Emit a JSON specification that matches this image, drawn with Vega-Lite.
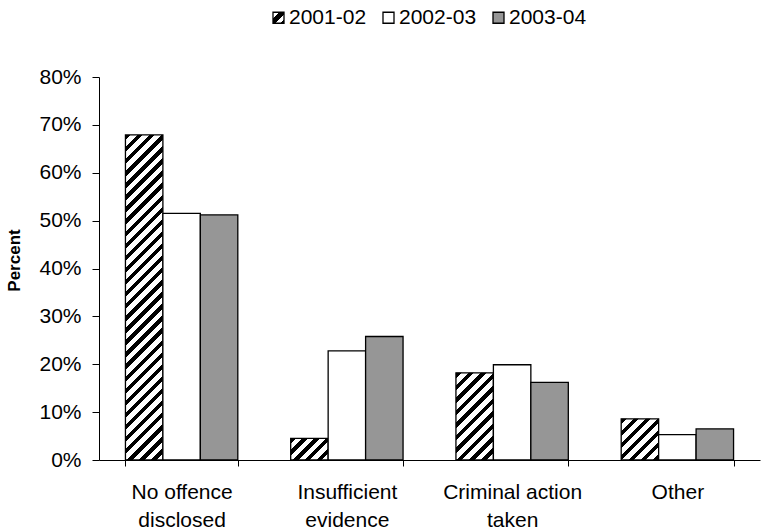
{
  "$schema": "https://vega.github.io/schema/vega-lite/v6.json",
  "autosize": {"type": "none"},
  "padding": {"left": 99, "top": 77, "right": 3, "bottom": 72},
  "width": 661,
  "height": 383,
  "background": "#ffffff",
  "data": {
    "values": [
      {"cat": "No offence disclosed", "series": "2001-02", "value": 67.9},
      {"cat": "No offence disclosed", "series": "2002-03", "value": 51.5},
      {"cat": "No offence disclosed", "series": "2003-04", "value": 51.2},
      {"cat": "Insufficient evidence", "series": "2001-02", "value": 4.5},
      {"cat": "Insufficient evidence", "series": "2002-03", "value": 22.8},
      {"cat": "Insufficient evidence", "series": "2003-04", "value": 25.8},
      {"cat": "Criminal action taken", "series": "2001-02", "value": 18.2},
      {"cat": "Criminal action taken", "series": "2002-03", "value": 19.9},
      {"cat": "Criminal action taken", "series": "2003-04", "value": 16.2},
      {"cat": "Other", "series": "2001-02", "value": 8.6},
      {"cat": "Other", "series": "2002-03", "value": 5.3},
      {"cat": "Other", "series": "2003-04", "value": 6.5}
    ]
  },
  "mark": {"type": "bar", "stroke": "#000000", "strokeWidth": 1.3},
  "encoding": {
    "x": {
      "field": "cat", "type": "nominal",
      "sort": ["No offence disclosed", "Insufficient evidence", "Criminal action taken", "Other"],
      "scale": {"paddingInner": 0.32, "paddingOuter": 0.16},
      "axis": {
        "title": null, "labelAngle": 0, "tickBand": "extent", "tickSize": 6, "labelPadding": 15,
        "labelLineHeight": 28,
        "labelExpr": "datum.label === 'No offence disclosed' ? ['No offence', 'disclosed'] : datum.label === 'Insufficient evidence' ? ['Insufficient', 'evidence'] : datum.label === 'Criminal action taken' ? ['Criminal action', 'taken'] : datum.label"
      }
    },
    "xOffset": {
      "field": "series", "type": "nominal",
      "sort": ["2001-02", "2002-03", "2003-04"],
      "scale": {"paddingInner": 0, "paddingOuter": 0}
    },
    "y": {
      "field": "value", "type": "quantitative",
      "scale": {"domain": [0, 80], "nice": false},
      "axis": {
        "values": [0, 10, 20, 30, 40, 50, 60, 70, 80],
        "labelExpr": "datum.value + '%'",
        "tickSize": 7, "labelPadding": 11,
        "title": "Percent", "titleFontSize": 17, "titleFontWeight": "bold", "titlePadding": 15,
        "titleY": 183
      }
    },
    "fill": {
      "condition": [
        {"test": "datum.series === '2001-02' && datum.cat === 'No offence disclosed'",
         "value": {"gradient": "linear", "x1": 0, "y1": 0, "x2": 0.1268, "y2": 1.1006, "stops": [
          {"offset": 0, "color": "#000000"}, {"offset": 0.015, "color": "#000000"}, {"offset": 0.015, "color": "#ffffff"}, {"offset": 0.03333, "color": "#ffffff"},
          {"offset": 0.03333, "color": "#000000"}, {"offset": 0.04833, "color": "#000000"}, {"offset": 0.04833, "color": "#ffffff"}, {"offset": 0.06667, "color": "#ffffff"},
          {"offset": 0.06667, "color": "#000000"}, {"offset": 0.08167, "color": "#000000"}, {"offset": 0.08167, "color": "#ffffff"}, {"offset": 0.1, "color": "#ffffff"},
          {"offset": 0.1, "color": "#000000"}, {"offset": 0.115, "color": "#000000"}, {"offset": 0.115, "color": "#ffffff"}, {"offset": 0.13333, "color": "#ffffff"},
          {"offset": 0.13333, "color": "#000000"}, {"offset": 0.14833, "color": "#000000"}, {"offset": 0.14833, "color": "#ffffff"}, {"offset": 0.16667, "color": "#ffffff"},
          {"offset": 0.16667, "color": "#000000"}, {"offset": 0.18167, "color": "#000000"}, {"offset": 0.18167, "color": "#ffffff"}, {"offset": 0.2, "color": "#ffffff"},
          {"offset": 0.2, "color": "#000000"}, {"offset": 0.215, "color": "#000000"}, {"offset": 0.215, "color": "#ffffff"}, {"offset": 0.23333, "color": "#ffffff"},
          {"offset": 0.23333, "color": "#000000"}, {"offset": 0.24833, "color": "#000000"}, {"offset": 0.24833, "color": "#ffffff"}, {"offset": 0.26667, "color": "#ffffff"},
          {"offset": 0.26667, "color": "#000000"}, {"offset": 0.28167, "color": "#000000"}, {"offset": 0.28167, "color": "#ffffff"}, {"offset": 0.3, "color": "#ffffff"},
          {"offset": 0.3, "color": "#000000"}, {"offset": 0.315, "color": "#000000"}, {"offset": 0.315, "color": "#ffffff"}, {"offset": 0.33333, "color": "#ffffff"},
          {"offset": 0.33333, "color": "#000000"}, {"offset": 0.34833, "color": "#000000"}, {"offset": 0.34833, "color": "#ffffff"}, {"offset": 0.36667, "color": "#ffffff"},
          {"offset": 0.36667, "color": "#000000"}, {"offset": 0.38167, "color": "#000000"}, {"offset": 0.38167, "color": "#ffffff"}, {"offset": 0.4, "color": "#ffffff"},
          {"offset": 0.4, "color": "#000000"}, {"offset": 0.415, "color": "#000000"}, {"offset": 0.415, "color": "#ffffff"}, {"offset": 0.43333, "color": "#ffffff"},
          {"offset": 0.43333, "color": "#000000"}, {"offset": 0.44833, "color": "#000000"}, {"offset": 0.44833, "color": "#ffffff"}, {"offset": 0.46667, "color": "#ffffff"},
          {"offset": 0.46667, "color": "#000000"}, {"offset": 0.48167, "color": "#000000"}, {"offset": 0.48167, "color": "#ffffff"}, {"offset": 0.5, "color": "#ffffff"},
          {"offset": 0.5, "color": "#000000"}, {"offset": 0.515, "color": "#000000"}, {"offset": 0.515, "color": "#ffffff"}, {"offset": 0.53333, "color": "#ffffff"},
          {"offset": 0.53333, "color": "#000000"}, {"offset": 0.54833, "color": "#000000"}, {"offset": 0.54833, "color": "#ffffff"}, {"offset": 0.56667, "color": "#ffffff"},
          {"offset": 0.56667, "color": "#000000"}, {"offset": 0.58167, "color": "#000000"}, {"offset": 0.58167, "color": "#ffffff"}, {"offset": 0.6, "color": "#ffffff"},
          {"offset": 0.6, "color": "#000000"}, {"offset": 0.615, "color": "#000000"}, {"offset": 0.615, "color": "#ffffff"}, {"offset": 0.63333, "color": "#ffffff"},
          {"offset": 0.63333, "color": "#000000"}, {"offset": 0.64833, "color": "#000000"}, {"offset": 0.64833, "color": "#ffffff"}, {"offset": 0.66667, "color": "#ffffff"},
          {"offset": 0.66667, "color": "#000000"}, {"offset": 0.68167, "color": "#000000"}, {"offset": 0.68167, "color": "#ffffff"}, {"offset": 0.7, "color": "#ffffff"},
          {"offset": 0.7, "color": "#000000"}, {"offset": 0.715, "color": "#000000"}, {"offset": 0.715, "color": "#ffffff"}, {"offset": 0.73333, "color": "#ffffff"},
          {"offset": 0.73333, "color": "#000000"}, {"offset": 0.74833, "color": "#000000"}, {"offset": 0.74833, "color": "#ffffff"}, {"offset": 0.76667, "color": "#ffffff"},
          {"offset": 0.76667, "color": "#000000"}, {"offset": 0.78167, "color": "#000000"}, {"offset": 0.78167, "color": "#ffffff"}, {"offset": 0.8, "color": "#ffffff"},
          {"offset": 0.8, "color": "#000000"}, {"offset": 0.815, "color": "#000000"}, {"offset": 0.815, "color": "#ffffff"}, {"offset": 0.83333, "color": "#ffffff"},
          {"offset": 0.83333, "color": "#000000"}, {"offset": 0.84833, "color": "#000000"}, {"offset": 0.84833, "color": "#ffffff"}, {"offset": 0.86667, "color": "#ffffff"},
          {"offset": 0.86667, "color": "#000000"}, {"offset": 0.88167, "color": "#000000"}, {"offset": 0.88167, "color": "#ffffff"}, {"offset": 0.9, "color": "#ffffff"},
          {"offset": 0.9, "color": "#000000"}, {"offset": 0.915, "color": "#000000"}, {"offset": 0.915, "color": "#ffffff"}, {"offset": 0.93333, "color": "#ffffff"},
          {"offset": 0.93333, "color": "#000000"}, {"offset": 0.94833, "color": "#000000"}, {"offset": 0.94833, "color": "#ffffff"}, {"offset": 0.96667, "color": "#ffffff"},
          {"offset": 0.96667, "color": "#000000"}, {"offset": 0.98167, "color": "#000000"}, {"offset": 0.98167, "color": "#ffffff"}, {"offset": 1, "color": "#ffffff"}
         ]}},
        {"test": "datum.series === '2001-02' && datum.cat === 'Insufficient evidence'",
         "value": {"gradient": "linear", "x1": 0, "y1": 0, "x2": 1.184, "y2": 0.679, "stops": [
          {"offset": 0, "color": "#000000"}, {"offset": 0.09, "color": "#000000"}, {"offset": 0.09, "color": "#ffffff"}, {"offset": 0.2, "color": "#ffffff"},
          {"offset": 0.2, "color": "#000000"}, {"offset": 0.29, "color": "#000000"}, {"offset": 0.29, "color": "#ffffff"}, {"offset": 0.4, "color": "#ffffff"},
          {"offset": 0.4, "color": "#000000"}, {"offset": 0.49, "color": "#000000"}, {"offset": 0.49, "color": "#ffffff"}, {"offset": 0.6, "color": "#ffffff"},
          {"offset": 0.6, "color": "#000000"}, {"offset": 0.69, "color": "#000000"}, {"offset": 0.69, "color": "#ffffff"}, {"offset": 0.8, "color": "#ffffff"},
          {"offset": 0.8, "color": "#000000"}, {"offset": 0.89, "color": "#000000"}, {"offset": 0.89, "color": "#ffffff"}, {"offset": 1, "color": "#ffffff"}
         ]}},
        {"test": "datum.series === '2001-02' && datum.cat === 'Criminal action taken'",
         "value": {"gradient": "linear", "x1": 0, "y1": 0, "x2": 0.5191, "y2": 1.2069, "stops": [
          {"offset": 0, "color": "#000000"}, {"offset": 0.045, "color": "#000000"}, {"offset": 0.045, "color": "#ffffff"}, {"offset": 0.1, "color": "#ffffff"},
          {"offset": 0.1, "color": "#000000"}, {"offset": 0.145, "color": "#000000"}, {"offset": 0.145, "color": "#ffffff"}, {"offset": 0.2, "color": "#ffffff"},
          {"offset": 0.2, "color": "#000000"}, {"offset": 0.245, "color": "#000000"}, {"offset": 0.245, "color": "#ffffff"}, {"offset": 0.3, "color": "#ffffff"},
          {"offset": 0.3, "color": "#000000"}, {"offset": 0.345, "color": "#000000"}, {"offset": 0.345, "color": "#ffffff"}, {"offset": 0.4, "color": "#ffffff"},
          {"offset": 0.4, "color": "#000000"}, {"offset": 0.445, "color": "#000000"}, {"offset": 0.445, "color": "#ffffff"}, {"offset": 0.5, "color": "#ffffff"},
          {"offset": 0.5, "color": "#000000"}, {"offset": 0.545, "color": "#000000"}, {"offset": 0.545, "color": "#ffffff"}, {"offset": 0.6, "color": "#ffffff"},
          {"offset": 0.6, "color": "#000000"}, {"offset": 0.645, "color": "#000000"}, {"offset": 0.645, "color": "#ffffff"}, {"offset": 0.7, "color": "#ffffff"},
          {"offset": 0.7, "color": "#000000"}, {"offset": 0.745, "color": "#000000"}, {"offset": 0.745, "color": "#ffffff"}, {"offset": 0.8, "color": "#ffffff"},
          {"offset": 0.8, "color": "#000000"}, {"offset": 0.845, "color": "#000000"}, {"offset": 0.845, "color": "#ffffff"}, {"offset": 0.9, "color": "#ffffff"},
          {"offset": 0.9, "color": "#000000"}, {"offset": 0.945, "color": "#000000"}, {"offset": 0.945, "color": "#ffffff"}, {"offset": 1, "color": "#ffffff"}
         ]}},
        {"test": "datum.series === '2001-02' && datum.cat === 'Other'",
         "value": {"gradient": "linear", "x1": 0, "y1": 0, "x2": 0.9503, "y2": 1.0452, "stops": [
          {"offset": 0, "color": "#000000"}, {"offset": 0.06923, "color": "#000000"}, {"offset": 0.06923, "color": "#ffffff"}, {"offset": 0.15385, "color": "#ffffff"},
          {"offset": 0.15385, "color": "#000000"}, {"offset": 0.22308, "color": "#000000"}, {"offset": 0.22308, "color": "#ffffff"}, {"offset": 0.30769, "color": "#ffffff"},
          {"offset": 0.30769, "color": "#000000"}, {"offset": 0.37692, "color": "#000000"}, {"offset": 0.37692, "color": "#ffffff"}, {"offset": 0.46154, "color": "#ffffff"},
          {"offset": 0.46154, "color": "#000000"}, {"offset": 0.53077, "color": "#000000"}, {"offset": 0.53077, "color": "#ffffff"}, {"offset": 0.61538, "color": "#ffffff"},
          {"offset": 0.61538, "color": "#000000"}, {"offset": 0.68462, "color": "#000000"}, {"offset": 0.68462, "color": "#ffffff"}, {"offset": 0.76923, "color": "#ffffff"},
          {"offset": 0.76923, "color": "#000000"}, {"offset": 0.83846, "color": "#000000"}, {"offset": 0.83846, "color": "#ffffff"}, {"offset": 0.92308, "color": "#ffffff"},
          {"offset": 0.92308, "color": "#000000"}, {"offset": 0.99231, "color": "#000000"}, {"offset": 0.99231, "color": "#ffffff"}, {"offset": 1, "color": "#ffffff"}
         ]}}
      ],
      "field": "series", "type": "nominal",
      "scale": {
        "domain": ["2001-02", "2002-03", "2003-04"],
        "range": [
          {"expr": "{gradient: 'linear', x1: 0, y1: 0, x2: 1, y2: 1, stops: [{offset: 0, color: '#ffffff'}, {offset: 0.3, color: '#ffffff'}, {offset: 0.3, color: '#000000'}, {offset: 0.58, color: '#000000'}, {offset: 0.58, color: '#ffffff'}, {offset: 0.85, color: '#ffffff'}, {offset: 0.85, color: '#000000'}, {offset: 1, color: '#000000'}]}"},
          "#ffffff", "#969696"
        ]
      },
      "legend": {
        "title": null, "orient": "none", "direction": "horizontal",
        "legendX": 169, "legendY": -70,
        "symbolStrokeColor": "#000000", "symbolStrokeWidth": 1.3, "symbolOpacity": 1
      }
    }
  },
  "config": {
    "font": "Liberation Sans",
    "view": {"stroke": null},
    "axis": {
      "grid": false, "domainColor": "#000000", "tickColor": "#000000", "labelColor": "#000000",
      "titleColor": "#000000", "labelFontSize": 21, "domainWidth": 1, "tickWidth": 1
    },
    "legend": {
      "padding": 0, "labelFontSize": 21, "labelColor": "#000000", "symbolType": "square",
      "symbolSize": 121, "symbolStrokeColor": "#000000", "symbolStrokeWidth": 1.3,
      "labelOffset": 0, "columnPadding": 11
    }
  }
}
